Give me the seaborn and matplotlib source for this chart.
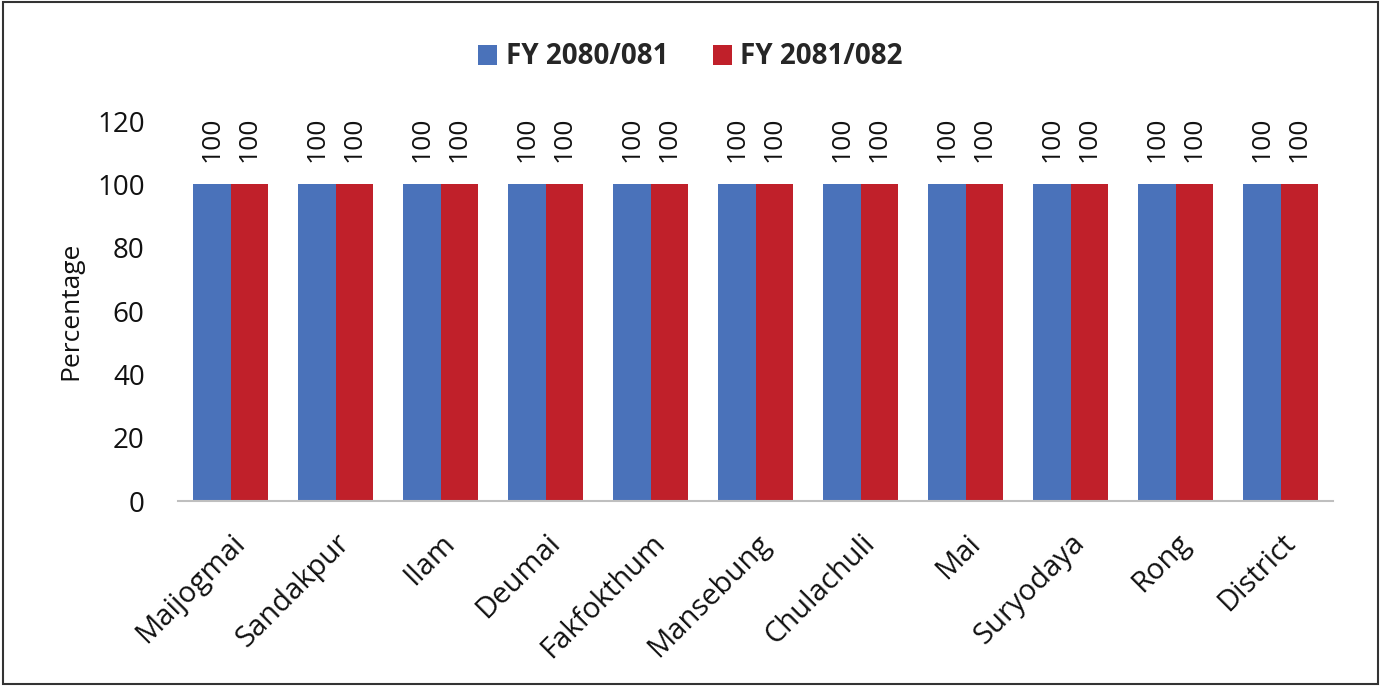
import matplotlib
matplotlib.use("Agg")
import matplotlib.pyplot as plt
import seaborn as sns
import pandas as pd

categories = ["Maijogmai", "Sandakpur", "Ilam", "Deumai", "Fakfokthum", "Mansebung",
              "Chulachuli", "Mai", "Suryodaya", "Rong", "District"]
series_names = ["FY 2080/081", "FY 2081/082"]
fy2080 = [100, 100, 100, 100, 100, 100, 100, 100, 100, 100, 100]
fy2081 = [100, 100, 100, 100, 100, 100, 100, 100, 100, 100, 100]
yticks = [0, 20, 40, 60, 80, 100, 120]

df = pd.DataFrame({
    "Category": categories * 2,
    "Series": [series_names[0]] * len(categories) + [series_names[1]] * len(categories),
    "Value": fy2080 + fy2081,
})

sns.set_theme(style="white")
plt.rcParams['font.family'] = ['Open Sans', 'DejaVu Sans']

fig = plt.figure(figsize=(13.81, 6.86), dpi=100)
ax = fig.add_axes([178/1381, 1 - 501/686, (1333-178)/1381, (501-121)/686])

palette = {series_names[0]: "#4A72BA", series_names[1]: "#C0202A"}
sns.barplot(data=df, x="Category", y="Value", hue="Series", palette=palette,
            width=0.72, gap=0, saturation=1, ax=ax, legend=True, linewidth=0)

for cont in ax.containers:
    ax.bar_label(cont, labels=[f"{v:.0f}" for v in cont.datavalues], rotation=90,
                 padding=16, fontsize=19, color="#111111")

ax.set_ylim(0, 120)
ax.set_xlim(-0.5, len(categories) - 0.5)
ax.set_yticks(yticks)
ax.tick_params(axis="y", labelsize=20, length=0, pad=24, colors="#111111")
ax.tick_params(axis="x", labelsize=21, length=0, pad=20, colors="#111111")
plt.setp(ax.get_xticklabels(), rotation=45, ha="right", rotation_mode="anchor")
ax.set_xlabel("")
ax.set_ylabel("Percentage", fontsize=19, color="#111111", labelpad=10)
for s in ["top", "right", "left"]:
    ax.spines[s].set_visible(False)
ax.spines["bottom"].set_color("#BFBFBF")
ax.spines["bottom"].set_linewidth(1.5)

handles, labels = ax.get_legend_handles_labels()
leg = ax.legend(handles, labels, loc="center", ncol=2, frameon=False,
                handlelength=0.7, handleheight=0.7, handletextpad=0.3, columnspacing=1.6,
                prop={"weight": "bold", "size": 20})
leg.set_bbox_to_anchor((0.5, 1 - 57/686), transform=fig.transFigure)

# outer frame
fig.patches.append(plt.Rectangle((0.002, 0.003), 0.996, 0.994, transform=fig.transFigure,
                                 fill=False, edgecolor="#333333", linewidth=1.5))

fig.savefig("out.png", dpi=100)
